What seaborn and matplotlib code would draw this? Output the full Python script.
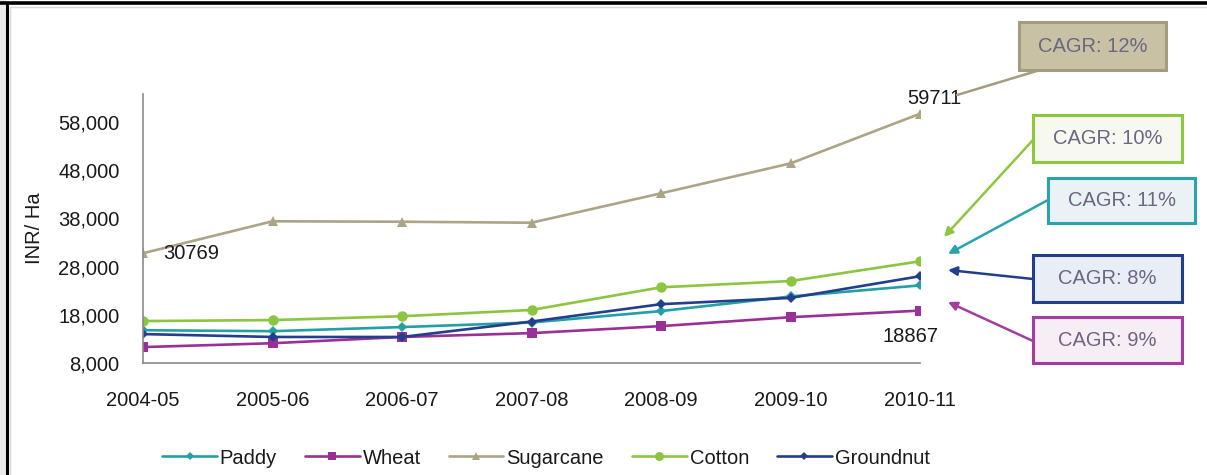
import matplotlib
matplotlib.use("Agg")
import matplotlib.pyplot as plt
from matplotlib.patches import Rectangle, FancyArrowPatch
from matplotlib.lines import Line2D
import seaborn as sns
import pandas as pd

# Cost of cultivation per hectare by crop, 2004-05 to 2010-11
seasons = ["2004-05", "2005-06", "2006-07", "2007-08", "2008-09", "2009-10", "2010-11"]
crops = ["Paddy", "Wheat", "Sugarcane", "Cotton", "Groundnut"]
paddy = [14800, 14600, 15450, 16400, 18770, 21800, 24100]
wheat = [11300, 12100, 13400, 14200, 15650, 17500, 18867]
sugarcane = [30769, 37400, 37300, 37100, 43200, 49400, 59711]
cotton = [16700, 16900, 17700, 19000, 23700, 25000, 29100]
groundnut = [14000, 13400, 13400, 16600, 20200, 21500, 26000]
cagr_labels = ["CAGR: 12%", "CAGR: 10%", "CAGR: 11%", "CAGR: 8%", "CAGR: 9%"]
yticks = [8000, 18000, 28000, 38000, 48000, 58000]

colors = {
    "Paddy": "#22a0a6",
    "Wheat": "#9a2f96",
    "Sugarcane": "#aca487",
    "Cotton": "#8cc540",
    "Groundnut": "#223f8e",
}
markers = {"Paddy": "D", "Wheat": "s", "Sugarcane": "^", "Cotton": "o", "Groundnut": "D"}
msizes = {"Paddy": 5.5, "Wheat": 7, "Sugarcane": 6.5, "Cotton": 7.5, "Groundnut": 5.5}

series = dict(zip(crops, [paddy, wheat, sugarcane, cotton, groundnut]))
df = pd.DataFrame(
    [(i, s, c, v) for c, vals in series.items() for i, (s, v) in enumerate(zip(seasons, vals))],
    columns=["idx", "season", "crop", "value"],
)

sns.set_theme(style="white")
plt.rcParams["font.family"] = ["Liberation Sans", "DejaVu Sans"]

W, H = 1207, 475
fig = plt.figure(figsize=(W / 100, H / 100), dpi=100)
ax = fig.add_axes([143 / W, 1 - 363 / H, (920 - 143) / W, (363 - 94) / H])


def fx(x):
    return x / W


def fy(y):
    return 1 - y / H


for crop in crops:
    sub = df[df.crop == crop]
    sns.lineplot(
        data=sub, x="idx", y="value", ax=ax, color=colors[crop], lw=1.9,
        marker=markers[crop], markersize=msizes[crop], markeredgewidth=0,
        label=crop, legend=False,
    )

ax.set_xlim(0, 6)
ax.set_ylim(8000, 63800)
ax.set_xticks(range(len(seasons)))
ax.set_xticklabels(seasons)
ax.set_yticks(yticks)
ax.set_yticklabels([f"{t:,}" for t in yticks])
ax.set_xlabel("")
ax.set_ylabel("INR/ Ha", fontsize=14.5, color="#1a1a1a")
ax.yaxis.set_label_coords(-99 / (920 - 143), 0.5)
for side in ["top", "right"]:
    ax.spines[side].set_visible(False)
for side in ["left", "bottom"]:
    ax.spines[side].set_color("#8a8a8a")
    ax.spines[side].set_linewidth(1.2)
ax.tick_params(axis="both", direction="out", length=6, width=1, color="#8a8a8a",
               labelsize=14.5, labelcolor="#1a1a1a")
ax.tick_params(axis="x", pad=14)
ax.tick_params(axis="y", pad=11)
ax.grid(False)

# value labels on endpoints
lab_kw = dict(textcoords="offset pixels", fontsize=14.5, color="#1a1a1a", annotation_clip=False)
ax.annotate(f"{sugarcane[0]}", xy=(0, sugarcane[0]), xytext=(20, 0), ha="left", va="center", **lab_kw)
ax.annotate(f"{sugarcane[-1]}", xy=(6, sugarcane[-1]), xytext=(14, 15), ha="center", va="center", **lab_kw)
ax.annotate(f"{wheat[-1]}", xy=(6, wheat[-1]), xytext=(-9, -26), ha="center", va="center", **lab_kw)

# legend below the plot
handles = [
    Line2D([0], [0], color=colors[c], lw=1.9, marker=markers[c], markersize=msizes[c] - 1,
           markeredgewidth=0)
    for c in crops
]
fig.legend(handles, crops, loc="center", bbox_to_anchor=(fx(546), fy(458)), ncol=5,
           frameon=False, fontsize=14.5, handlelength=2.7, handletextpad=0.15,
           columnspacing=1.4, labelcolor="#1a1a1a")

# CAGR call-out boxes with connectors
boxes = [
    ((1019, 22, 1166, 70), "#c8c1a4", "#a39c80", (1040, 70), (957, 95), False),
    ((1033, 115, 1182, 162), "#f7f9f0", "#8dc63f", (1033, 140), (944, 237), True),
    ((1048, 178, 1195, 223), "#eaf2f5", "#2aa3ad", (1048, 200), (948, 254), True),
    ((1033, 255, 1182, 302), "#e8edf6", "#233f8b", (1033, 279), (948, 270), True),
    ((1033, 317, 1182, 363), "#f6edf5", "#a33d9f", (1033, 341), (948, 302), True),
]
for label, ((x0, y0, x1, y1), fc, ec, start, tip, head) in zip(cagr_labels, boxes):
    fig.patches.append(Rectangle((fx(x0), fy(y1)), fx(x1 - x0), (y1 - y0) / H,
                                 transform=fig.transFigure, fc=fc, ec=ec, lw=2.2, zorder=3))
    fig.text(fx((x0 + x1) / 2), fy((y0 + y1) / 2), label, ha="center", va="center",
             fontsize=14.5, color="#6c6682", zorder=4)
    arrow = FancyArrowPatch((fx(start[0]), fy(start[1])), (fx(tip[0]), fy(tip[1])),
                            transform=fig.transFigure,
                            arrowstyle="-|>" if head else "-", mutation_scale=13,
                            color=ec, lw=1.8, shrinkA=0, shrinkB=0, zorder=2)
    fig.patches.append(arrow)

# outer frame
fig.patches.append(Rectangle((0, 0), fx(6), 1, transform=fig.transFigure,
                             fc="#ececec", ec="none", zorder=0))
fig.add_artist(Line2D([fx(7), fx(7)], [0, fy(3)], transform=fig.transFigure,
                      color="black", lw=2.2))
fig.add_artist(Line2D([0, 1], [fy(3), fy(3)], transform=fig.transFigure,
                      color="black", lw=2.6))
fig.add_artist(Line2D([fx(10), 1], [fy(7), fy(7)], transform=fig.transFigure,
                      color="#d8d8d8", lw=1))
fig.add_artist(Line2D([fx(10), fx(10)], [0, fy(7)], transform=fig.transFigure,
                      color="#d8d8d8", lw=1))

fig.savefig("out.png", dpi=100, facecolor="white")
